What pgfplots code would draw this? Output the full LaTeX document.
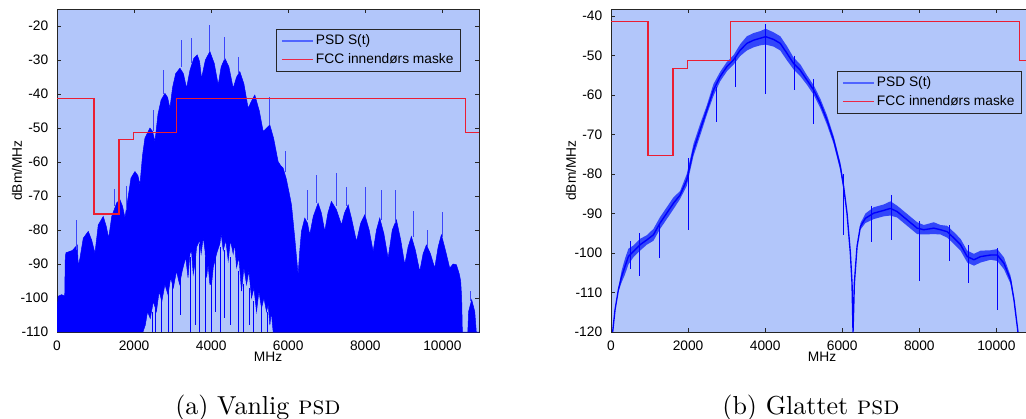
\documentclass[border=0pt]{standalone}
\usepackage{fontspec}
\usepackage{pgfplots}
\pgfplotsset{compat=1.18}
\newfontfamily\arial{Liberation Sans}
\definecolor{bgblue}{RGB}{178,198,250}
\definecolor{psdblue}{RGB}{0,0,255}
\definecolor{spikeblue}{RGB}{60,70,250}
\definecolor{bandblue}{RGB}{50,70,250}
\definecolor{legblue}{RGB}{80,100,255}
\definecolor{legred}{RGB}{235,40,70}
\definecolor{maskred}{RGB}{235,30,50}
\newcommand{\smallfont}{\arial\fontsize{5.5}{6}\selectfont}
\pgfplotsset{
  psdaxis/.style={
    scale only axis, width=168.8pt, height=129.2pt,
    anchor=south west,
    xmin=0, xmax=10950,
    xtick={0,2000,4000,6000,8000,10000},
    axis background/.style={fill=bgblue},
    axis line style={black!85, line width=0.4pt},
    every tick/.style={black!85, line width=0.4pt},
    major tick length=1.6pt,
    tick align=inside,
    tick label style={font=\smallfont},
    /pgf/number format/assume math mode=true,
    /pgf/number format/1000 sep={},
    scaled ticks=false,
    xlabel={MHz}, ylabel={dBm/MHz},
    every axis x label/.style={at={(rel axis cs:0.5,0)}, anchor=center, yshift=-10pt, font=\smallfont},
    every axis y label/.style={at={([xshift=-16pt]rel axis cs:0,0.5)}, anchor=center, rotate=90, font=\smallfont},
    legend cell align=left,
    legend style={draw=none, fill=bgblue, font=\smallfont,
      inner xsep=1.6pt, inner ysep=1.2pt, row sep=0.6pt,
      nodes={inner sep=0.8pt, text height=4pt, text depth=1.2pt}},
    unbounded coords=jump,
  },
}
\begin{document}
\begin{tikzpicture}
\useasboundingbox (0,0) rectangle (410.4pt,167.2pt);
% ---------------- (a) ----------------
\begin{axis}[psdaxis, at={(22.8pt,34.4pt)}, ymin=-110, ymax=-15,
  ytick={-110,-100,-90,-80,-70,-60,-50,-40,-30,-20},
  legend style={at={(0.955,0.938)}, anchor=north east, name=legA}]
\addlegendimage{legend image code/.code={\draw[draw=legblue, line width=0.5pt] (0pt,0pt) -- (12.6pt,0pt);}}
\addlegendentry{PSD S(t)}
\addlegendimage{legend image code/.code={\draw[draw=legred, line width=0.5pt] (0pt,0pt) -- (12.6pt,0pt);}}
\addlegendentry{FCC innendørs maske}
\addplot[forget plot, fill=psdblue, draw=psdblue, line width=0.2pt] coordinates {
(0,-110) (0,-104) (30,-99.5) (120,-99) (200,-99.5) (215,-88) (233,-86.7) (400,-86) (526,-84.4) (553,-90.7)
(600,-88) (682,-82.4) (812,-80.4) (900,-83) (985,-86.8) (1071,-78.5) (1200,-76) (1280,-79) (1340,-82.4)
(1420,-76) (1550,-72) (1634,-71.1) (1700,-73) (1763,-76.4) (1850,-70) (1920,-64.7) (2022,-62.8) (2100,-64)
(2152,-66.7) (2220,-58) (2281,-53) (2411,-50) (2480,-51) (2541,-54) (2620,-46) (2700,-41.8) (2800,-39.8)
(2870,-41) (2930,-44.2) (3000,-38) (3080,-34) (3190,-32.4) (3280,-34) (3362,-38.3) (3450,-33) (3550,-29.5)
(3640,-28.5) (3700,-30.5) (3750,-35.4) (3850,-30) (3967,-27.5) (4080,-31) (4183,-37.3) (4260,-32) (4356,-29.5)
(4460,-32) (4572,-38.3) (4660,-35) (4744,-33.4) (4850,-37) (4960,-44.2) (5050,-42) (5133,-40.3) (5250,-45)
(5349,-51) (5440,-50) (5522,-49.1) (5620,-53) (5738,-59.9) (5800,-61) (5868,-61.8) (5950,-65) (6040,-70)
(6084,-72.6) (6170,-82.4) (6256,-93.2) (6300,-86) (6343,-80.4) (6429,-76.5) (6500,-78) (6559,-81.4) (6650,-76)
(6775,-72.1) (6860,-75) (6948,-80.4) (7030,-75) (7120,-71.6) (7250,-74) (7382,-78.5) (7460,-75) (7555,-72.6)
(7650,-77) (7771,-83.4) (7880,-78) (7987,-75.5) (8100,-80) (8203,-86.3) (8290,-80) (8375,-76.5) (8480,-81)
(8591,-88.3) (8700,-80) (8807,-77) (8920,-83) (9023,-90.2) (9110,-85) (9196,-81.9) (9300,-86) (9412,-92.2)
(9500,-87) (9585,-84.4) (9690,-87) (9801,-91.2) (9890,-85) (9974,-81.4) (10080,-86) (10190,-91.2) (10280,-90)
(10363,-90.2) (10440,-93) (10475,-95.1) (10500,-100) (10518,-110) (10660,-110) (10680,-104) (10760,-100.5)
(10840,-104) (10880,-110) (10950,-110)
(5609,-110) (5560,-104) (5523,-108) (5480,-102) (5436,-104) (5370,-100) (5307,-103) (5240,-98) (5177,-104)
(5110,-97) (5047,-100) (4980,-92) (4918,-96) (4850,-91) (4788,-98) (4720,-88) (4659,-91) (4610,-84) (4572,-87)
(4500,-83) (4443,-89) (4380,-83) (4313,-86) (4260,-81) (4227,-84) (4140,-87) (4054,-91) (4010,-96) (3967,-96)
(3920,-90) (3881,-94) (3840,-86) (3795,-82) (3740,-87) (3700,-83) (3622,-85) (3580,-90) (3535,-93) (3490,-86)
(3449,-87) (3400,-94) (3340,-88) (3250,-92) (3180,-96) (3100,-92) (3020,-97) (2950,-94) (2880,-99) (2800,-96)
(2720,-101) (2650,-98) (2580,-104) (2500,-101) (2420,-106) (2350,-104) (2290,-108) (2230,-110)
};
% downward spikes into the lighter holes
\addplot[forget plot, psdblue, line width=0.35pt] coordinates {
(2480,-104) (2480,-110) (2480,nan) (2560,-103) (2560,-110) (2560,nan) (2700,-100) (2700,-110) (2700,nan)
(2890,-97) (2890,-110) (2890,nan) (3000,-96) (3000,-110) (3000,nan) (3200,-93) (3200,-105) (3200,nan)
(3460,-88) (3460,-110) (3460,nan) (3600,-86) (3600,-108) (3600,nan) (3700,-84) (3700,-110) (3700,nan)
(3860,-88) (3860,-110) (3860,nan) (4000,-93) (4000,-110) (4000,nan) (4100,-88) (4100,-104) (4100,nan)
(4250,-85) (4250,-110) (4250,nan) (4350,-86) (4350,-106) (4350,nan) (4500,-88) (4500,-108) (4500,nan)
(4700,-92) (4700,-110) (4700,nan) (4850,-96) (4850,-110) (4850,nan) (5000,-97) (5000,-108) (5000,nan)
(5100,-101) (5100,-110) (5100,nan) (5300,-103) (5300,-110) (5300,nan) (5450,-104) (5450,-110)
};
% upward spikes above the envelope
\addplot[forget plot, spikeblue, line width=0.35pt] coordinates {
(502,-86) (502,-77) (502,nan) (1497,-73) (1497,-68) (1497,nan) (1790,-74) (1790,-67) (1790,nan)
(2490,-51) (2490,-44.7) (2490,nan) (2750,-40) (2750,-33) (2750,nan) (3230,-32) (3230,-24) (3230,nan)
(3486,-31) (3486,-23.6) (3486,nan) (3967,-27.5) (3967,-19.7) (3967,nan) (4334,-30) (4334,-23.1) (4334,nan)
(4697,-34) (4697,-29) (4697,nan) (5501,-49) (5501,-40.8) (5501,nan) (5930,-63) (5930,-56.9) (5930,nan)
(6490,-77) (6490,-68.2) (6490,nan) (6732,-72) (6732,-63.8) (6732,nan) (7250,-73) (7250,-63.3) (7250,nan)
(7511,-73) (7511,-67.2) (7511,nan) (8000,-76) (8000,-67.2) (8000,nan) (8419,-77) (8419,-68.2) (8419,nan)
(8770,-78) (8770,-68.2) (8770,nan) (9240,-82) (9240,-74.5) (9240,nan) (9610,-85) (9610,-80) (9610,nan)
(9990,-82) (9990,-74.6) (9990,nan) (10730,-101) (10730,-98)
};
\addplot[forget plot, maskred, line width=0.5pt, const plot] coordinates {
(0,-41.3) (960,-75.3) (1610,-53.3) (1990,-51.3) (3100,-41.3) (10600,-51.3) (10950,-51.3)};
\end{axis}
\draw[black!85, line width=0.4pt] (legA.south west) rectangle (legA.north east);
% ---------------- (b) ----------------
\begin{axis}[psdaxis, at={(244.4pt,34.4pt)}, ymin=-120, ymax=-38.2,
  ytick={-120,-110,-100,-90,-80,-70,-60,-50,-40},
  legend style={at={(0.9716,0.808)}, anchor=north east, name=legB}]
\addlegendimage{legend image code/.code={\draw[draw=legblue, line width=0.5pt] (0pt,0pt) -- (12.6pt,0pt);}}
\addlegendentry{PSD S(t)}
\addlegendimage{legend image code/.code={\draw[draw=legred, line width=0.5pt] (0pt,0pt) -- (12.6pt,0pt);}}
\addlegendentry{FCC innendørs maske}
% noise band around the smoothed PSD
\addplot[forget plot, fill=bandblue, draw=none] coordinates {
(191,-108.8) (277,-104.4) (364,-101.4) (451,-98.9) (580,-98.1) (754,-96.4) (927,-95.5) (1100,-93.9) (1273,-90.9)
(1447,-88.4) (1620,-85.9) (1793,-84.3) (1966,-80) (2140,-72.4) (2313,-67.3) (2486,-62.6) (2659,-57.2) (2833,-54.1)
(3006,-51.6) (3179,-49.9) (3353,-47.1) (3526,-45.1) (3699,-44.3) (3873,-43.8) (4012,-43.2) (4218,-44.1) (4392,-45.1)
(4565,-47.6) (4738,-50.5) (4911,-52.2) (5085,-55) (5258,-57.5) (5431,-60.9) (5604,-65.1) (5778,-70.4) (5951,-77.1)
(6037,-82.4)
(6037,-84) (5951,-79.1) (5778,-72.4) (5604,-67.5) (5431,-63.3) (5258,-59.9) (5085,-57.4) (4911,-55.2) (4738,-53.5)
(4565,-51.2) (4392,-48.7) (4218,-47.7) (4012,-47.2) (3873,-47.4) (3699,-47.9) (3526,-48.7) (3353,-50.1) (3179,-52.3)
(3006,-54) (2833,-56.5) (2659,-60.2) (2486,-65) (2313,-70.3) (2140,-75.4) (1966,-83) (1793,-86.3) (1620,-88.9)
(1447,-91.4) (1273,-93.9) (1100,-96.9) (927,-97.9) (754,-99.4) (580,-101.1) (451,-102.9) (364,-105.4) (277,-107.4)
(191,-109.8)
};
\addplot[forget plot, fill=bandblue, draw=none] coordinates {
(6471,-92.5) (6601,-90) (6818,-88.4) (7078,-87.7) (7251,-86.9) (7424,-88) (7684,-90.1) (7944,-92.2) (8117,-92.9)
(8377,-92.2) (8550,-92.9) (8724,-93.1) (8897,-94.7) (9070,-96.4) (9244,-99.4) (9417,-100.2) (9591,-99.4) (9850,-99.3)
(10023,-99) (10196,-101.1) (10369,-105.8) (10456,-111.3)
(10456,-112.3) (10369,-107.8) (10196,-104.1) (10023,-102) (9850,-101.7) (9591,-102.4) (9417,-103.2) (9244,-102.4)
(9070,-99.4) (8897,-97.7) (8724,-96.1) (8550,-95.3) (8377,-95.2) (8117,-95.3) (7944,-95.2) (7684,-93.1) (7424,-91)
(7251,-90.5) (7078,-90.7) (6818,-91.4) (6601,-92.4) (6471,-94.1)
};
\addplot[forget plot, psdblue, line width=0.55pt, line join=round] coordinates {
(43,-120) (104,-114.4) (191,-109.3) (277,-105.9) (364,-103.4) (451,-100.9) (580,-99.6) (754,-97.9) (927,-96.7)
(1100,-95.4) (1273,-92.4) (1447,-89.9) (1620,-87.4) (1793,-85.3) (1966,-81.5) (2140,-73.9) (2313,-68.8)
(2486,-63.8) (2659,-58.7) (2833,-55.3) (3006,-52.8) (3179,-51.1) (3353,-48.6) (3526,-46.9) (3699,-46.1)
(3873,-45.6) (4012,-45.2) (4218,-45.9) (4392,-46.9) (4565,-49.4) (4738,-52) (4911,-53.7) (5085,-56.2)
(5258,-58.7) (5431,-62.1) (5604,-66.3) (5778,-71.4) (5951,-78.1) (6037,-83.2) (6124,-89.9) (6211,-100)
(6254,-107.6) (6280,-120) (6315,-107.6) (6384,-98.4) (6471,-93.3) (6601,-91.2) (6818,-89.9) (7078,-89.2)
(7251,-88.7) (7424,-89.5) (7684,-91.6) (7944,-93.7) (8117,-94.1) (8377,-93.7) (8550,-94.1) (8724,-94.6)
(8897,-96.2) (9070,-97.9) (9244,-100.9) (9417,-101.7) (9591,-100.9) (9850,-100.5) (10023,-100.5)
(10196,-102.6) (10369,-106.8) (10456,-111.8) (10560,-120)
};
\addplot[forget plot, psdblue, line width=0.35pt] coordinates {
(494,-97) (494,-104) (494,nan) (736,-95) (736,-105.9) (736,nan) (1256,-93) (1256,-101.3) (1256,nan)
(2011,-76) (2011,-94.1) (2011,nan) (2746,-58) (2746,-66.7) (2746,nan) (3240,-50) (3240,-57.9) (3240,nan)
(4012,-42) (4012,-59.8) (4012,nan) (4764,-50) (4764,-58.7) (4764,nan) (5258,-56) (5258,-67.2) (5258,nan)
(6020,-80) (6020,-95.4) (6020,nan) (6757,-88) (6757,-97.1) (6757,nan) (7268,-85.3) (7268,-96.7) (7268,nan)
(8013,-92) (8013,-107.2) (8013,nan) (8784,-93) (8784,-102.1) (8784,nan) (9270,-98) (9270,-107.6) (9270,nan)
(10023,-98.8) (10023,-114.4)
};
\addplot[forget plot, maskred, line width=0.5pt, const plot] coordinates {
(0,-41.3) (960,-75.3) (1610,-53.3) (1990,-51.3) (3100,-41.3) (10600,-51.3) (10950,-51.3)};
\end{axis}
\draw[black!85, line width=0.4pt] (legB.south west) rectangle (legB.north east);
\node[anchor=base, font=\fontsize{10.4}{12}\selectfont] at (103.2pt,1.6pt) {(a) Vanlig \textsc{psd}};
\node[anchor=base, font=\fontsize{10.4}{12}\selectfont] at (324.4pt,1.6pt) {(b) Glattet \textsc{psd}};
\end{tikzpicture}
\end{document}
